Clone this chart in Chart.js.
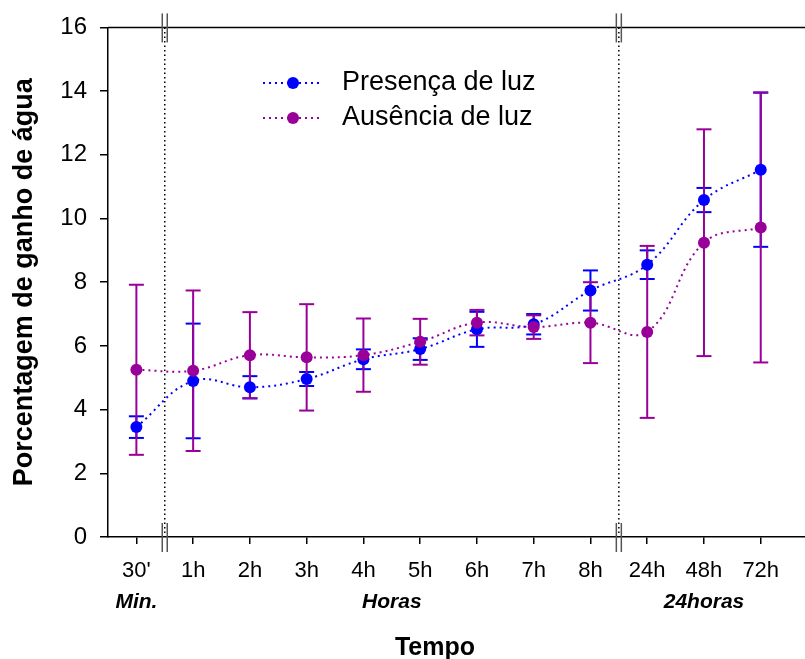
<!DOCTYPE html>
<html>
<head>
<meta charset="utf-8">
<script src="https://cdn.jsdelivr.net/npm/chart.js"></script>
<style>
    body { margin: 0; background: #fff; }
    #wrap { width: 805px; height: 659px; }
</style>
</head>
<body>
<div id="wrap"><canvas id="grafico" width="805" height="659"></canvas></div>
<script>
    // dados
    const tempos = ["30'", '1h', '2h', '3h', '4h', '5h', '6h', '7h', '8h', '24h', '48h', '72h'];
    const presenca = [3.45, 4.90, 4.70, 4.96, 5.58, 5.90, 6.52, 6.68, 7.74, 8.55, 10.58, 11.53];
    const presencaErro = [0.34, 1.80, 0.35, 0.22, 0.31, 0.34, 0.55, 0.32, 0.63, 0.45, 0.38, 2.42];
    const ausencia = [5.25, 5.22, 5.71, 5.64, 5.71, 6.13, 6.73, 6.59, 6.73, 6.44, 9.24, 9.72];
    const ausenciaErro = [2.67, 2.52, 1.35, 1.67, 1.15, 0.72, 0.40, 0.37, 1.27, 2.70, 3.56, 4.24];
    const grupos = ['Min.', 'Horas', '24horas'];
    const gruposInicio = [0, 1, 9];
    const gruposFim = [0, 8, 11];
    const quebras = [0.5, 8.5];

    const azul = '#0000ff';
    const roxo = '#990099';
    const fonte = "'Liberation Sans', Arial, sans-serif";

    function linha(ctx, x1, y1, x2, y2) {
        ctx.beginPath();
        ctx.moveTo(x1, y1);
        ctx.lineTo(x2, y2);
        ctx.stroke();
    }

    function desenharErros(chart, medias, erros, cor) {
        const { ctx, scales: { x, y } } = chart;
        ctx.save();
        ctx.strokeStyle = cor;
        ctx.lineWidth = 2;
        medias.forEach((m, i) => {
            const px = x.getPixelForValue(i);
            const yTop = y.getPixelForValue(m + erros[i]);
            const yBot = y.getPixelForValue(m - erros[i]);
            linha(ctx, px, yTop, px, yBot);
            linha(ctx, px - 7.5, yTop, px + 7.5, yTop);
            linha(ctx, px - 7.5, yBot, px + 7.5, yBot);
        });
        ctx.restore();
    }

    const extras = {
        id: 'extras',
        beforeDatasetsDraw(chart) {
            const { ctx, chartArea: a, scales: { x } } = chart;
            // linhas pontilhadas das quebras
            ctx.save();
            ctx.strokeStyle = '#000';
            ctx.lineWidth = 1.5;
            ctx.setLineDash([1.5, 3]);
            quebras.forEach(q => {
                const px = x.getPixelForValue(q);
                linha(ctx, px, a.top, px, a.bottom);
            });
            ctx.restore();

            desenharErros(chart, presenca, presencaErro, azul);
            desenharErros(chart, ausencia, ausenciaErro, roxo);
        },
        afterDraw(chart) {
            const { ctx, chartArea: a, scales: { x } } = chart;
            ctx.save();
            // linha superior
            ctx.strokeStyle = '#000';
            ctx.lineWidth = 1.5;
            linha(ctx, a.left, a.top, a.right, a.top);

            // marcas de quebra do eixo
            ctx.strokeStyle = '#555';
            quebras.forEach(q => {
                const px = x.getPixelForValue(q);
                [a.top, a.bottom].forEach(yy => {
                    linha(ctx, px - 2.5, yy - 14, px - 2.5, yy + 15);
                    linha(ctx, px + 2.5, yy - 14, px + 2.5, yy + 15);
                });
            });

            // rotulos dos grupos
            ctx.fillStyle = '#000';
            ctx.textAlign = 'center';
            ctx.textBaseline = 'middle';
            ctx.font = 'italic bold 21px ' + fonte;
            grupos.forEach((g, i) => {
                const cx = (x.getPixelForValue(gruposInicio[i]) + x.getPixelForValue(gruposFim[i])) / 2;
                ctx.fillText(g, cx, a.bottom + 65);
            });

            ctx.font = 'bold 25px ' + fonte;
            ctx.fillText('Tempo', 435, 648);

            // legenda
            const itens = [
                { texto: 'Presença de luz', cor: azul, y: 83 },
                { texto: 'Ausência de luz', cor: roxo, y: 118 }
            ];
            itens.forEach(it => {
                ctx.strokeStyle = it.cor;
                ctx.lineWidth = 2;
                ctx.setLineDash([2, 4]);
                linha(ctx, 263, it.y, 323, it.y);
                ctx.setLineDash([]);
                ctx.fillStyle = it.cor;
                ctx.beginPath();
                ctx.arc(293, it.y, 6, 0, Math.PI * 2);
                ctx.fill();
                ctx.fillStyle = '#000';
                ctx.textAlign = 'left';
                ctx.font = '27px ' + fonte;
                ctx.fillText(it.texto, 342, it.y);
            });
            ctx.restore();
        }
    };

    new Chart(document.getElementById('grafico'), {
        type: 'line',
        data: {
            datasets: [{
                label: 'Presença de luz',
                data: presenca.map((v, i) => ({ x: i, y: v })),
                borderColor: azul,
                backgroundColor: azul,
                borderWidth: 2,
                borderDash: [2, 4],
                tension: 0.4,
                pointRadius: 6,
                pointBorderWidth: 0,
                pointBackgroundColor: azul,
                order: 1
            }, {
                label: 'Ausência de luz',
                data: ausencia.map((v, i) => ({ x: i, y: v })),
                borderColor: roxo,
                backgroundColor: roxo,
                borderWidth: 2,
                borderDash: [2, 4],
                tension: 0.4,
                pointRadius: 6,
                pointBorderWidth: 0,
                pointBackgroundColor: roxo,
                order: 0
            }]
        },
        options: {
            responsive: false,
            animation: false,
            layout: { autoPadding: false, padding: { top: 25, right: 0, left: 0, bottom: 0 } },
            plugins: {
                legend: { display: false },
                tooltip: { enabled: false }
            },
            scales: {
                x: {
                    type: 'linear',
                    min: -0.5,
                    max: 11.78,
                    afterBuildTicks: s => { s.ticks = tempos.map((t, i) => ({ value: i })); },
                    afterFit: s => { s.height = 122; s.paddingLeft = 0; s.paddingRight = 0; },
                    ticks: {
                        callback: v => tempos[v],
                        font: { size: 22, family: fonte },
                        color: '#000',
                        padding: 14,
                        maxRotation: 0,
                        autoSkip: false
                    },
                    grid: { drawOnChartArea: false, tickLength: 7, color: '#000', lineWidth: 1.5 },
                    border: { color: '#000', width: 1.5 }
                },
                y: {
                    min: 0,
                    max: 16,
                    afterFit: s => { s.width = 108; },
                    ticks: {
                        stepSize: 2,
                        font: { size: 24, family: fonte },
                        color: '#000',
                        padding: 13
                    },
                    grid: { drawOnChartArea: false, tickLength: 8, color: '#000', lineWidth: 1.5 },
                    border: { color: '#000', width: 1.5 },
                    title: {
                        display: true,
                        text: 'Porcentagem de ganho de água',
                        font: { size: 27, weight: 'bold', family: fonte },
                        color: '#000',
                        padding: { top: 8, bottom: 0 }
                    }
                }
            }
        },
        plugins: [extras]
    });
</script>
</body>
</html>
